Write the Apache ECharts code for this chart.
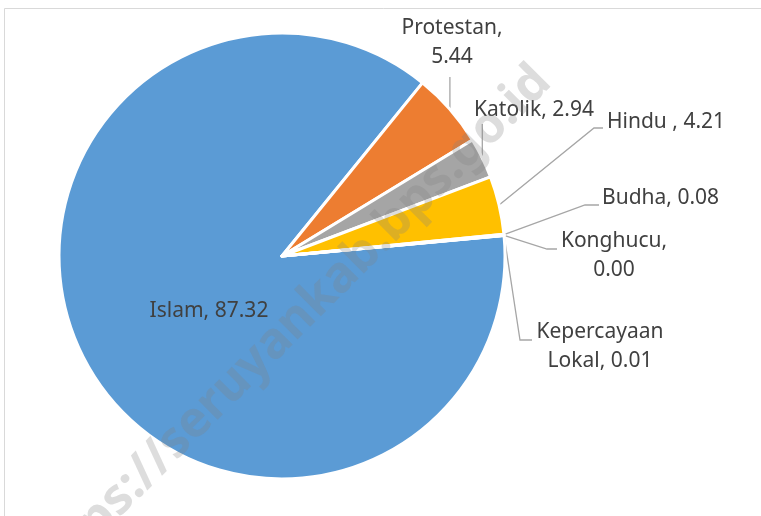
<!DOCTYPE html>
<html>
<head>
<meta charset="utf-8">
<script src="https://cdn.jsdelivr.net/npm/echarts@6/dist/echarts.min.js"></script>
<style>
  html, body { margin: 0; padding: 0; background: #fff; }
  #box { width: 761px; height: 516px; }
</style>
</head>
<body>
<div id="box"></div>
<script>
// data
let religions = ["Islam", "Protestan", "Katolik", "Hindu ", "Budha", "Konghucu", "Kepercayaan Lokal"];
let shares = [87.32, 5.44, 2.94, 4.21, 0.08, 0.00, 0.01];
let colors = ["#5B9BD5", "#ED7D31", "#A5A5A5", "#FFC000", "#4472C4", "#70AD47", "#264478"];

// label text wrapping as in the original
let wrap = {
  "Protestan": "Protestan,\n{v}",
  "Konghucu": "Konghucu,\n{v}",
  "Kepercayaan Lokal": "Kepercayaan\nLokal, {v}"
};

// where each label sits (style only): x, y, align, and the elbow of its leader line
let labelSpots = [
  { x: 209, y: 311, align: "center" },
  { x: 452, y: 43, align: "center", elbow: [[null, 77]] },
  { x: 534, y: 110, align: "center", elbow: [[null, 124]] },
  { x: 607, y: 122, align: "left", elbow: [[594, 128], [603, 128]] },
  { x: 602, y: 198, align: "left", elbow: [[585, 205], [599, 205]] },
  { x: 614, y: 256, align: "center", elbow: [[547, 249], [557, 249]] },
  { x: 600, y: 347, align: "center", elbow: [[520, 340], [532, 340]] }
];

let chart = echarts.init(document.getElementById("box"), null, { renderer: "canvas" });

let pieData = religions.map((name, i) => {
  let item = {
    name: name,
    value: shares[i],
    itemStyle: { color: colors[i] }
  };
  if (i === 0) {
    item.label = { position: "inside" };
    item.labelLine = { show: false };
  }
  return item;
});

let option = {
  animation: false,
  graphic: [
    {
      type: "rect",
      shape: { x: 4.5, y: 8.5, width: 800, height: 600 },
      style: { fill: null, stroke: "#D9D9D9", lineWidth: 1 },
      z: 0
    },
    {
      type: "text",
      x: 288,
      y: 329,
      rotation: 45 * Math.PI / 180,
      z: 100,
      silent: true,
      style: {
        text: "https://seruyankab.bps.go.id",
        font: "bold 50px 'Noto Sans'",
        fill: "rgba(128,128,128,0.27)",
        textAlign: "center",
        textVerticalAlign: "middle"
      }
    }
  ],
  series: [
    {
      type: "pie",
      center: [282, 256],
      radius: 223,
      startAngle: 5.3,
      clockwise: true,
      avoidLabelOverlap: false,
      itemStyle: { borderColor: "#fff", borderWidth: 3 },
      label: {
        show: true,
        position: "outside",
        color: "#404040",
        fontFamily: "Noto Sans",
        fontSize: 21,
        lineHeight: 29,
        align: "center",
        formatter: function (p) {
          let v = p.value.toFixed(2);
          let tpl = wrap[p.name] || p.name + ", {v}";
          return tpl.replace("{v}", v);
        }
      },
      labelLine: {
        show: true,
        smooth: false,
        length: 10,
        length2: 10,
        lineStyle: { color: "#A6A6A6", width: 1.3 }
      },
      labelLayout: function (params) {
        let s = labelSpots[params.dataIndex];
        let out = { x: s.x, y: s.y, align: s.align, verticalAlign: "middle" };
        if (s.elbow && params.labelLinePoints) {
          let a = params.labelLinePoints[0];
          let pts = [[a[0], a[1]]];
          s.elbow.forEach(e => pts.push([e[0] == null ? a[0] : e[0], e[1]]));
          out.labelLinePoints = pts;
        }
        return out;
      },
      data: pieData
    }
  ]
};

chart.setOption(option);
</script>
</body>
</html>
